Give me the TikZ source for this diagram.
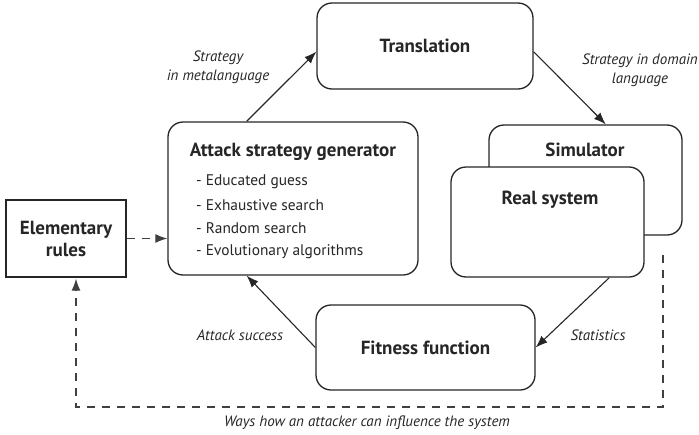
\documentclass[tikz,border=0pt]{standalone}
\usepackage{fontspec}
\setmainfont{PT Sans}
\usetikzlibrary{arrows.meta,calc}
\begin{document}
\begin{tikzpicture}[x=1pt,y=-1pt,
  box/.style={draw=black!85,line width=1.3pt,rounded corners=15pt,fill=white,inner sep=0pt},
  sbox/.style={draw=black!85,line width=1.3pt,fill=white,inner sep=0pt},
  title/.style={font=\fontsize{19}{22}\selectfont\bfseries,text=black!85,inner sep=0pt},
  item/.style={font=\fontsize{15.4}{18}\selectfont,text=black!85,inner sep=0pt,anchor=west},
  lab/.style={font=\fontsize{15}{19}\selectfont\itshape,text=black!85,align=center,inner sep=0pt},
  arr/.style={draw=black!85,line width=1.1pt,-{Latex[length=12pt,width=9pt]}},
  darr/.style={draw=black!75,line width=1.2pt,dash pattern=on 8pt off 7pt,-{Latex[length=12pt,width=9pt]}}]
\useasboundingbox (0,0) rectangle (699,434);

\node[box,minimum width=250pt,minimum height=153pt] (gen) at (293,198.5) {};
\node[box,minimum width=216pt,minimum height=86pt,title] (trans) at (425,46) {Translation};
\node[box,minimum width=193pt,minimum height=110pt] (sim) at (585.5,180) {};
\node[box,minimum width=193pt,minimum height=110pt] (real) at (547.5,222) {};
\node[box,minimum width=219pt,minimum height=85pt,title] (fit) at (425.5,347.5) {Fitness function};
\node[sbox,minimum width=120pt,minimum height=77pt,title,align=center,font=\fontsize{19}{22}\selectfont\bfseries] (er) at (66,238.5) {Elementary\\rules};

\node[title] (gent) at (293,152) {Attack strategy generator};
\node[item] (i1) at (196,182) {- Educated guess};
\node[item] (i2) at (196,205) {- Exhaustive search};
\node[item] (i3) at (196,228) {- Random search};
\node[item] (i4) at (196,252) {- Evolutionary algorithms};
\node[title] (simt) at (585,150) {Simulator};
\node[title] (realt) at (550,200) {Real system};

\draw[arr] (gen.121) -- (trans.183);
\draw[arr] (trans.-3) -- (sim.70.5);
\draw[arr] (real.-42.7) -- (fit.east);
\draw[arr] (fit.west) -- (gen.239);

\draw[darr] (er.east) -- (er.east -| gen.west);
\coordinate (fb) at (663,255);
\coordinate (bl) at (76,407);
\draw[darr] (fb) |- (bl) -- ($(er.south)+(10,1)$);

\node[lab] (l1) at (218,67) {Strategy\\in metalanguage};
\node[lab] (l2) at (640,70) {Strategy in domain\\language};
\node[lab] (l3) at (240,335) {Attack success};
\node[lab] (l4) at (598,335) {Statistics};
\node[lab] (l5) at (367,423) {Ways how an attacker can influence the system};
\end{tikzpicture}
\end{document}
